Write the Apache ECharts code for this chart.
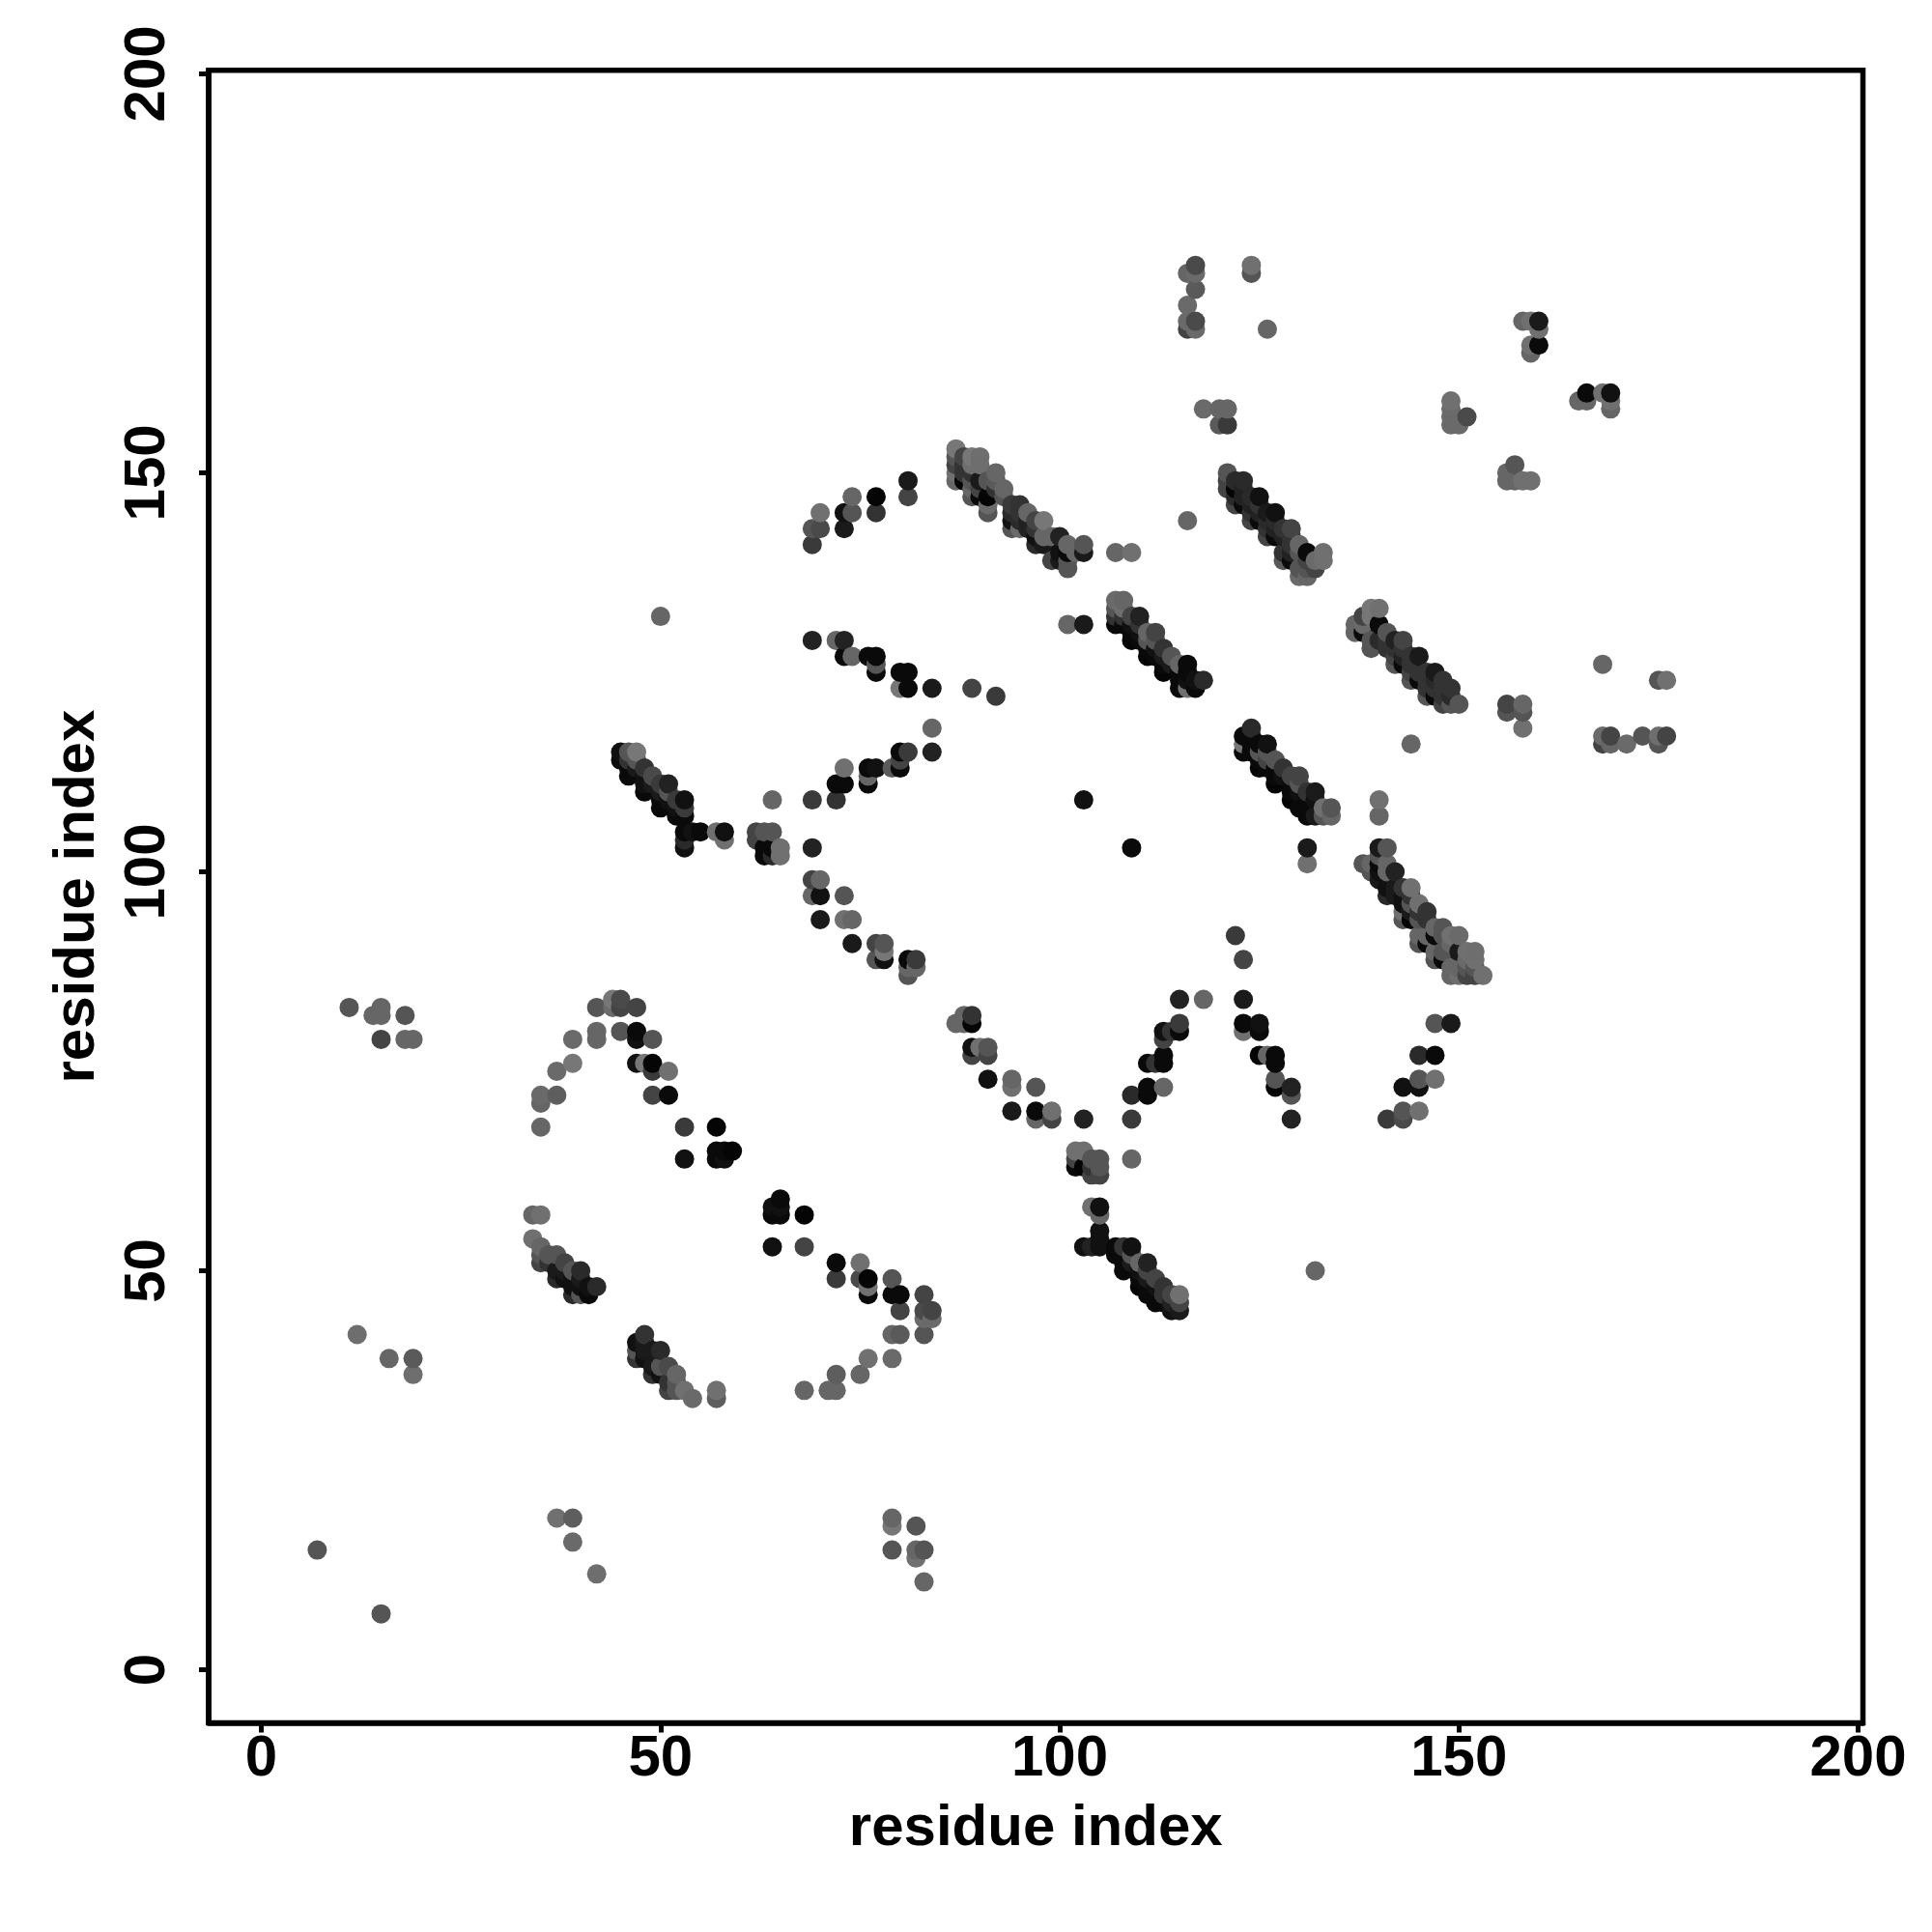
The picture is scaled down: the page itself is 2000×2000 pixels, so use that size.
<!DOCTYPE html>
<html><head><meta charset="utf-8">
<style>html,body{margin:0;padding:0;background:#fff}#c{width:2000px;height:2000px}</style>
<script src="https://cdn.jsdelivr.net/npm/echarts@6/dist/echarts.min.js"></script>
</head><body><div id="c"></div>
<script>
// each contact: [residue i, residue j, grey level 0-255]
const lowerLeft = [[12,42,110],[16,39,102],[19,39,90],[19,37,110],[7,15,85],[15,7,85],[37,19,112],[39,19,94],[39,16,106],[42,12,110],
 [11,83,85],[14,82,102],[15,83,102],[15,82,102],[15,79,68],[18,82,85],[18,79,102],[19,79,102]];
const lowerMid = [[79,19,102],[79,18,119],[82,18,85],[79,15,85],[82,15,102],[83,15,85],[82,14,112],[83,11,102]];
const arcA = [[42,83,85],[44,84,119],[44,83,106],[45,84,74],[45,83,68],[47,83,68],[42,80,102],[42,79,102],[39,79,106],[45,80,85],[47,80,10],[47,79,17],[49,79,85],
 [39,76,119],[37,75,106],[47,76,17],[48,76,119],[49,76,5],[49,75,58],[51,75,112],[35,72,106],[37,72,94],[35,71,102],[49,72,68],[51,72,10],[35,68,102],[53,68,58],[57,68,5],
 [53,64,17],[57,65,10],[57,64,10],[58,65,10],[58,64,17],[59,65,5],[65,59,10],[64,58,17],[64,57,10],[65,57,10],[65,58,17],[68,57,5],[64,53,17],[68,53,68]];
const arcB = [[72,51,10],[75,51,112],[72,49,58],[75,49,74],[76,49,5],[76,48,112],[76,47,10],[79,49,85],[79,47,10],[80,47,10],[83,47,68],[80,45,68],[83,45,74],[84,45,68],[84,44,106],[83,44,106],
 [79,42,102],[80,42,90],[83,42,85],[76,39,112],[79,39,106],[72,37,94],[75,37,102],[68,35,102],[71,35,102],[72,35,102],[57,35,112],[57,34,94],[54,34,106],[53,35,112]];
const bandA = [[34,57,102],[35,57,112],[34,54,112],[35,53,102],[35,52,85],[35,51,68],[36,52,85],[37,52,85],[36,51,51],[38,51,68],[37,49,42],[37,50,26],[38,50,26],[39,50,85],[40,50,42],
 [39,47,42],[39,49,17],[40,49,26],[40,48,17],[40,47,85],[41,47,10],[42,48,42],[41,48,17],[38,49,17],[39,48,17]];
const bandB = [[48,42,51],[47,41,17],[47,40,85],[47,39,51],[48,41,26],[48,40,26],[48,39,17],[49,40,26],[50,40,42],[49,37,51],[49,38,26],[50,38,85],[50,37,17],[51,38,74],[52,37,102],[51,35,68],[51,36,51],[52,36,85],[52,35,85]];
const bandC = [[45,115,17],[45,114,10],[46,115,85],[47,115,119],[46,114,51],[46,112,10],[46,113,10],[47,114,85],[47,113,26],[48,113,51],[49,112,74],[48,112,17],[48,110,10],[48,111,17],[49,111,26],[50,111,58],[51,111,34],[50,110,26],[51,110,85],
 [50,108,10],[50,109,10],[51,109,17],[52,109,58],[53,109,17],[52,107,10],[52,108,17],[53,108,58],[53,107,10],[53,105,10],[54,105,17],[55,105,10],[53,104,42],[53,103,17],[57,105,112],[58,105,17],[58,104,112]];
const crossX = [[64,109,102],[69,109,58],[72,109,51],[72,111,10],[73,111,10],[73,113,112],[76,113,10],[77,113,17],[76,112,102],[76,111,10],[79,113,90],[80,113,10],[80,114,68],[80,115,10],[81,115,58],[84,115,34],[84,118,102],
 [62,105,68],[63,105,85],[64,105,85],[62,104,68],[63,103,10],[63,102,10],[64,102,42],[64,103,10],[65,103,112],[65,102,112],[69,103,34],[69,99,68],[70,99,102],[69,97,102],[70,97,17],[73,97,85],[70,94,26],[73,94,112],[74,94,102],
 [74,91,26],[77,91,68],[78,91,85],[78,90,119],[77,89,85],[78,89,17],[81,89,10],[82,89,58],[82,88,102],[81,88,102],[81,87,85],
 [69,129,34],[72,129,102],[73,129,34],[73,127,10],[74,127,102],[76,127,10],[77,127,10],[77,126,85],[77,125,10],[80,125,10],[81,125,10],[80,123,119],[81,123,10],[84,123,26],[89,123,68],[92,122,58],[50,132,102]];
const arcTop = [[69,141,58],[69,143,85],[70,143,74],[70,145,112],[73,143,26],[73,145,17],[74,145,85],[74,147,102],[77,147,5],[77,145,51],[81,149,26],[81,147,68]];
const bandD = [[87,153,119],[87,152,85],[87,151,68],[87,150,112],[87,149,102],[88,152,68],[89,152,119],[90,152,110],[89,151,110],[90,151,110],[88,151,51],[88,150,51],[89,150,51],[88,149,5],[89,149,85],[89,147,85],[89,148,102],[90,149,26],[90,148,68],[90,147,10],
 [91,145,85],[91,146,106],[92,150,102],[92,149,90],[92,148,51],[93,148,102],[93,147,85],[91,147,5],[91,149,85],[94,146,58],[95,146,51],[94,145,42],[95,145,51],[94,143,85],[95,143,106],[94,144,17],[95,144,42],[96,145,102],[96,144,34],[96,143,34],
 [97,144,68],[98,144,119],[97,143,51],[97,141,42],[97,142,17],[98,141,26],[98,142,102],[99,142,102],[100,142,34],[99,139,68],[100,140,17],[100,139,26],[101,141,102],[101,140,10],[101,139,85],[101,138,85],[102,140,102],[103,141,85],[103,140,26],
 [107,140,102],[109,140,112],[116,144,102],[101,131,102],[103,131,26]];
const bandF = [[107,134,106],[108,134,102],[107,133,85],[108,133,110],[107,132,51],[107,131,10],[108,132,51],[109,132,68],[110,132,34],[108,131,10],[109,131,17],[110,131,51],[109,129,5],[109,130,10],[110,130,17],[111,130,102],[112,130,68],[111,129,85],[112,129,85],
 [110,129,10],[111,127,5],[111,128,10],[112,128,17],[113,128,51],[114,127,85],[113,127,26],[112,127,10],[113,125,5],[113,126,10],[114,126,26],[115,126,102],[116,126,10],[115,125,10],[116,125,10],[115,123,10],[115,124,10],[116,124,17],[117,124,17],[118,124,42],[116,123,112],[117,123,10]];
const topRight = [[117,176,74],[116,175,102],[117,175,106],[117,173,90],[116,171,106],[116,169,106],[117,169,74],[116,168,68],[117,168,106],[124,176,112],[124,175,85],[126,168,102],[118,158,106],[120,158,102],[121,158,102],[120,156,90],[121,156,58],
 [158,169,102],[159,169,112],[160,169,26],[160,168,112],[159,166,112],[160,166,10],[159,165,102],[149,159,112],[149,158,106],[149,157,106],[149,156,106],[150,156,106],[151,157,74],[157,151,85],[156,150,102],[156,149,102],[157,149,102],[158,149,112],[159,149,112],
 [165,159,102],[166,160,10],[166,159,102],[168,160,112],[169,160,17],[169,158,102],[169,159,112]];
const bandE = [[121,150,85],[121,149,68],[121,148,68],[122,149,42],[123,149,42],[122,148,5],[123,148,34],[122,147,42],[122,146,68],[124,147,42],[125,147,17],[123,147,34],[124,146,34],[123,146,10],[125,146,51],[124,144,68],[124,145,51],[126,145,26],[127,145,17],[125,145,34],[125,144,10],[126,144,42],[127,144,42],
 [126,142,68],[126,143,51],[127,143,34],[128,143,51],[129,143,68],[128,142,34],[129,142,51],[130,141,102],[129,141,51],[127,142,10],[128,139,90],[128,140,51],[129,140,34],[130,140,85],[131,140,10],[129,139,10],[131,139,68],[130,137,106],[131,137,102],[130,138,85],[131,138,85],[132,138,68],[132,139,106],[133,140,112],[133,139,112]];
const bandG = [[139,133,119],[140,133,112],[138,132,68],[139,132,119],[137,131,102],[137,130,102],[138,131,106],[138,130,10],[140,131,10],[141,130,85],[139,128,85],[139,129,85],[140,129,42],[142,129,34],[143,129,68],[141,129,51],[142,128,51],[141,128,51],[143,128,51],
 [142,126,85],[142,127,68],[143,127,34],[144,127,51],[145,127,26],[143,126,10],[144,126,51],[144,124,85],[144,125,68],[145,125,51],[146,125,51],[147,125,26],[145,124,10],[146,124,51],[147,124,42],[148,123,51],[149,123,51],[148,124,51],[146,122,85],[146,123,51],[147,123,51],[147,122,10],[148,122,51],[149,122,42],[148,121,68],[149,121,85],[150,121,85]];
const farRight = [[144,116,102],[140,109,112],[140,107,102],[103,109,17],[109,103,10],[131,103,26],[131,101,112],[156,121,68],[156,120,85],[158,121,102],[158,120,85],[158,118,112],[168,126,102],[175,124,85],[176,124,112],[168,117,106],[169,117,68],[168,116,68],[169,116,102],[171,116,106],[173,117,85],[175,117,110],[176,117,68],[175,116,85]];
const bandH = [[124,118,42],[123,117,10],[123,116,119],[123,115,10],[124,117,10],[124,116,10],[124,115,10],[125,116,10],[126,116,17],[125,115,85],[126,115,85],[127,114,85],[126,114,68],[125,113,5],[125,114,10],[128,113,51],[127,113,10],[126,113,10],[127,111,5],[127,112,10],[128,112,17],[129,112,68],[130,112,68],
 [129,111,10],[130,111,85],[129,109,5],[129,110,10],[130,110,17],[131,110,51],[132,110,26],[131,109,10],[132,109,17],[131,107,10],[130,108,10],[131,108,10],[132,107,26],[133,108,112],[134,108,85],[133,107,85],[134,107,102]];
const bandI = [[140,103,26],[141,103,85],[138,101,85],[139,101,102],[139,100,85],[140,102,85],[141,101,102],[140,101,10],[140,100,17],[140,99,26],[142,100,34],[141,100,102],[141,97,42],[141,98,17],[142,98,26],[143,98,51],[144,98,112],[143,96,17],[142,97,26],[143,97,17],[144,97,51],[145,96,112],[144,96,85],
 [143,95,112],[143,94,85],[146,95,51],[145,95,51],[144,95,26],[144,94,5],[145,94,85],[146,94,51],[147,93,102],[148,93,85],[145,91,85],[145,92,102],[146,92,102],[147,92,10],[148,92,85],[149,92,112],[150,92,106],[146,91,10],[147,89,85],[147,90,102],[148,90,85],[148,89,10],
 [149,91,102],[150,90,26],[151,90,112],[152,90,110],[149,87,102],[150,87,110],[151,87,68],[152,87,68],[153,87,112],[149,88,102],[150,88,102],[151,88,85],[152,88,85],[151,89,106],[152,89,112]];
const armRight = [[122,92,58],[123,89,68],[123,84,26],[123,81,10],[123,80,112],[125,81,17],[125,80,10],[125,77,5],[126,77,102],[127,77,10],[127,76,10],[127,74,85],[127,73,5],[129,73,34],[129,72,85],[129,69,34],
 [147,81,85],[149,81,26],[145,77,42],[147,77,10],[145,74,85],[147,74,112],[143,73,17],[145,73,17],[143,70,85],[145,70,112],[141,69,58],[143,69,74]];
const armMid = [[87,81,102],[88,82,102],[88,81,102],[89,82,51],[89,81,5],[89,78,17],[90,78,112],[91,78,85],[89,77,68],[91,77,68],[91,74,17],[94,74,102],[94,73,112],[97,73,85],[94,70,26],[97,70,10],[97,69,102],[99,70,112],[99,69,68],[103,69,34],[109,69,58],[109,72,42],[111,73,10],[111,72,10],[113,73,102],
 [111,76,10],[112,76,51],[113,77,10],[113,76,10],[113,79,68],[113,80,17],[114,80,51],[115,80,10],[115,81,58],[115,84,34],[118,84,102],[109,64,102],[132,50,102]];
const bandJ = [[102,65,112],[103,65,112],[102,64,68],[102,63,10],[103,63,5],[104,64,85],[105,64,85],[105,63,85],[104,62,68],[105,62,68],[104,63,51],[104,58,112],[105,58,17],[105,57,102],[105,55,17],[105,54,17],[105,53,17],[103,53,17],[104,53,34],
 [107,53,10],[108,53,51],[109,53,17],[107,52,10],[108,52,10],[109,52,85],[108,50,10],[108,51,10],[109,51,26],[110,51,102],[111,51,34],[110,50,17],[111,50,68],[110,48,5],[110,49,10],[111,49,26],[112,49,68],[113,48,51],[112,48,17],[111,48,10],
 [112,46,10],[111,47,10],[112,47,10],[113,47,51],[114,47,68],[115,47,112],[114,45,17],[115,45,26],[115,46,68],[114,46,34],[113,46,10]];
const tickValues = [0, 50, 100, 150, 200];
const xName = 'residue index', yName = 'residue index';

const contacts = [].concat(lowerLeft, lowerMid, arcA, arcB, bandA, bandB, bandC, crossX, arcTop, bandD, bandF, topRight, bandE, bandG, farRight, bandH, bandI, armRight, armMid, bandJ)
  .sort((a, b) => a[0] - b[0] || a[1] - b[1]);

const font = 'Liberation Sans';
function axis(extra) {
  return Object.assign({
    type: 'value', splitLine: {show: false}, nameLocation: 'middle',
    nameTextStyle: {fontFamily: font, fontWeight: 'bold', fontSize: 60, color: '#000'},
    axisLine: {show: true, onZero: false, lineStyle: {color: '#000', width: 5.5}},
    axisTick: {show: true, length: 10, inside: false, lineStyle: {color: '#000', width: 5}, customValues: tickValues},
  }, extra);
}
const chart = echarts.init(document.getElementById('c'), null, {renderer: 'canvas'});
chart.setOption({
  animation: false, backgroundColor: '#fff',
  grid: {left: 216, top: 72.7, width: 1712.5, height: 1710.8, show: true, borderColor: '#000', borderWidth: 5.5, backgroundColor: 'transparent', containLabel: false},
  xAxis: axis({min: -6.6, max: 200.6, name: xName, nameGap: 80,
    axisLabel: {fontFamily: font, fontWeight: 'bold', fontSize: 60, color: '#000', margin: 8, customValues: tickValues, showMinLabel: true, showMaxLabel: true}}),
  yAxis: axis({min: -6.66, max: 200.45, name: yName, nameGap: 106,
    axisLabel: {fontFamily: font, fontWeight: 'bold', fontSize: 60, color: '#000', margin: 33, rotate: 90, customValues: tickValues, showMinLabel: true, showMaxLabel: true}}),
  series: [{
    type: 'scatter', symbol: 'circle', symbolSize: 20, silent: true, z: 1,
    data: contacts.map(c => ({value: [c[0], c[1]], itemStyle: {color: `rgb(${c[2]},${c[2]},${c[2]})`, opacity: 1}}))
  }]
});
</script></body></html>
